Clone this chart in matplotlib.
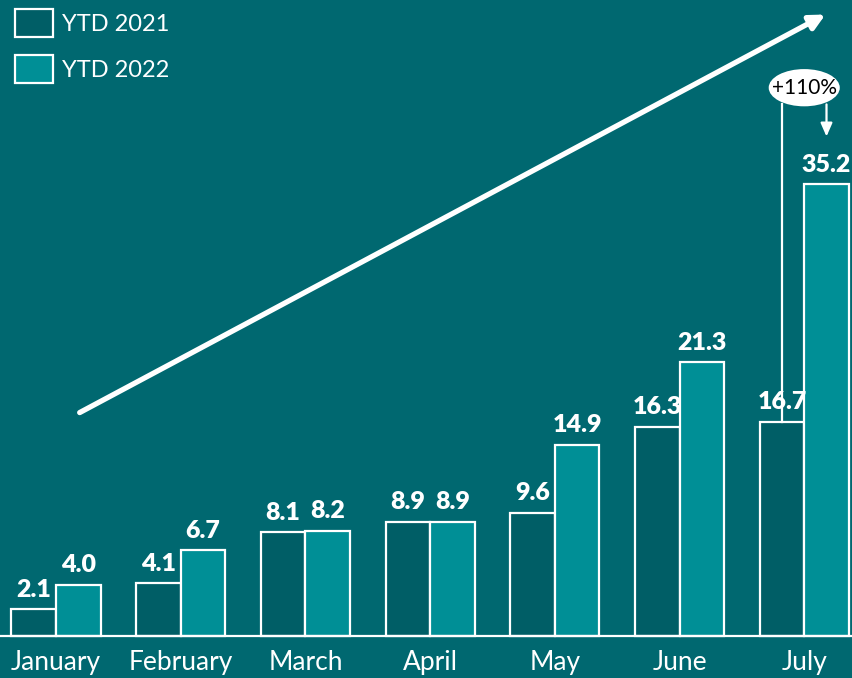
import matplotlib.pyplot as plt
import numpy as np
from matplotlib.patches import Ellipse

plt.rcParams['font.family'] = ['Lato', 'DejaVu Sans']

# data
months = ['January', 'February', 'March', 'April', 'May', 'June', 'July']
ytd_2021 = [2.1, 4.1, 8.1, 8.9, 9.6, 16.3, 16.7]
ytd_2022 = [4.0, 6.7, 8.2, 8.9, 14.9, 21.3, 35.2]
growth_label = '+110%'

bg = '#006870'
c2021 = '#005e66'
c2022 = '#008f96'

fig = plt.figure(figsize=(8.53, 6.78), dpi=100)
fig.patch.set_facecolor(bg)
ax = fig.add_axes([0, 0, 1, 1])
ax.set_facecolor(bg)

x = np.arange(len(months))
w = 0.357

b1 = ax.bar(x - w / 2, ytd_2021, w, color=c2021, edgecolor='white', linewidth=1.6, label='YTD 2021')
b2 = ax.bar(x + w / 2, ytd_2022, w, color=c2022, edgecolor='white', linewidth=1.6, label='YTD 2022')

# value labels
for bars, vals in [(b1, ytd_2021), (b2, ytd_2022)]:
    for r, v in zip(bars, vals):
        ax.annotate(f'{v:.1f}', (r.get_x() + r.get_width() / 2, v), xytext=(0, 6),
                    textcoords='offset points', ha='center', va='bottom',
                    color='white', fontsize=18, fontweight='heavy')

# month labels
for xi, m in zip(x, months):
    ax.text(xi, -2.1, m, ha='center', va='center', color='white', fontsize=19)

# baseline
ax.axhline(0, color='white', lw=1.6)

# big trend arrow
ax.annotate('', xy=(6.17, 48.4), xytext=(0.19, 17.4),
            arrowprops=dict(arrowstyle='-|>,head_length=0.9,head_width=0.45',
                            color='white', lw=3.8, shrinkA=0, shrinkB=0))

# July callout
top = 41.4
ax.plot([x[-1] - w / 2, x[-1] - w / 2], [ytd_2021[-1], top], color='white', lw=1.6)
ax.annotate('', xy=(x[-1] + w / 2, ytd_2022[-1] + 3.7), xytext=(x[-1] + w / 2, top),
            arrowprops=dict(arrowstyle='-|>,head_length=0.8,head_width=0.35',
                            color='white', lw=1.6, shrinkA=0, shrinkB=0))
ax.add_patch(Ellipse((x[-1], 42.7), 0.57, 2.9, facecolor='white', edgecolor='none', zorder=5))
ax.text(x[-1], 42.7, growth_label, ha='center', va='center', color='black', fontsize=15, zorder=6)

ax.set_xlim(-0.449, 6.391)
ax.set_ylim(-3.27, 49.53)
ax.axis('off')

leg = ax.legend(loc='upper left', bbox_to_anchor=(15 / 853, 1 - 9 / 678), frameon=False,
                fontsize=17, labelcolor='white', borderpad=0, borderaxespad=0,
                handlelength=1.6, handleheight=1.45, handletextpad=0.4, labelspacing=0.75)

fig.savefig('out.png', dpi=100, facecolor=bg)
